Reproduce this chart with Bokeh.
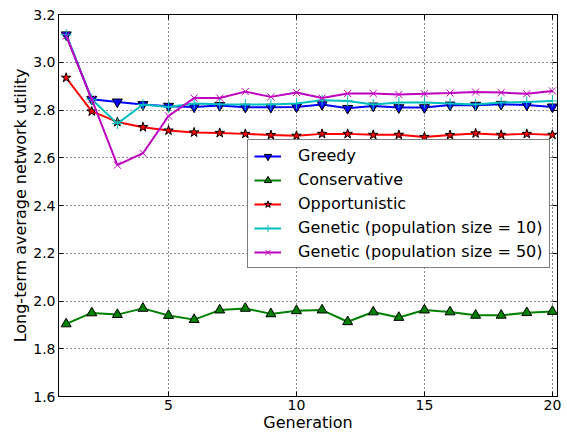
from bokeh.plotting import figure
from bokeh.models import Range1d, FixedTicker, LinearAxis, Legend, LegendItem, PrintfTickFormatter
from bokeh.embed import file_html
from bokeh.resources import INLINE

generations = list(range(1, 21))
greedy = [3.115, 2.845, 2.834, 2.823, 2.816, 2.813, 2.819, 2.812, 2.812, 2.813,
          2.823, 2.807, 2.817, 2.810, 2.810, 2.821, 2.820, 2.824, 2.821, 2.813]
conservative = [1.904, 1.950, 1.943, 1.969, 1.939, 1.922, 1.962, 1.969, 1.946, 1.959,
                1.962, 1.913, 1.954, 1.931, 1.962, 1.954, 1.940, 1.940, 1.951, 1.956]
opportunistic = [2.935, 2.794, 2.750, 2.728, 2.714, 2.706, 2.704, 2.700, 2.695, 2.692,
                 2.700, 2.700, 2.696, 2.696, 2.687, 2.695, 2.702, 2.696, 2.700, 2.696]
genetic10 = [3.115, 2.845, 2.743, 2.823, 2.813, 2.827, 2.824, 2.823, 2.823, 2.827,
             2.841, 2.838, 2.823, 2.831, 2.831, 2.827, 2.823, 2.831, 2.834, 2.838]
genetic50 = [3.110, 2.845, 2.569, 2.619, 2.775, 2.850, 2.850, 2.877, 2.855, 2.873,
             2.850, 2.869, 2.869, 2.865, 2.868, 2.871, 2.875, 2.873, 2.868, 2.880]

x_ticks = [5, 10, 15, 20]
y_ticks = [1.6, 1.8, 2.0, 2.2, 2.4, 2.6, 2.8, 3.0, 3.2]

FONT = "DejaVu Sans"

p = figure(width=567, height=434, output_backend="svg", toolbar_location=None,
           x_range=Range1d(0.7, 20.2), y_range=Range1d(1.6, 3.2),
           min_border_left=58, min_border_right=10, min_border_top=14, min_border_bottom=37,
           x_axis_label="Generation", y_axis_label="Long-term average network utility")
p.outline_line_color = "black"
p.outline_line_width = 1
p.background_fill_color = "white"
p.border_fill_color = "white"

p.xaxis.ticker = FixedTicker(ticks=x_ticks)
p.yaxis.ticker = FixedTicker(ticks=y_ticks)
p.yaxis.formatter = PrintfTickFormatter(format="%.1f")
for ax in (p.xaxis[0], p.yaxis[0]):
    ax.major_tick_in = 5
    ax.major_tick_out = 0
    ax.minor_tick_line_color = None
    ax.axis_line_color = "black"
    ax.major_tick_line_color = "black"
    ax.major_label_text_font = FONT
    ax.major_label_text_font_size = "14px"
    ax.major_label_text_color = "black"
    ax.axis_label_text_font = FONT
    ax.axis_label_text_font_size = "16px"
    ax.axis_label_text_font_style = "normal"
    ax.axis_label_text_color = "black"
p.xaxis.major_label_standoff = 3
p.xaxis.axis_label_standoff = 0
p.yaxis.major_label_standoff = 3
p.yaxis.axis_label_standoff = 0

top_axis = LinearAxis(ticker=FixedTicker(ticks=x_ticks), major_tick_in=5, major_tick_out=0,
                      minor_tick_line_color=None, major_label_standoff=0,
                      major_label_overrides={t: "" for t in x_ticks},
                      axis_line_color="black")
right_axis = LinearAxis(ticker=FixedTicker(ticks=y_ticks), major_tick_in=5, major_tick_out=0,
                        minor_tick_line_color=None, major_label_standoff=0,
                        major_label_overrides={t: "" for t in y_ticks},
                        axis_line_color="black")
p.add_layout(top_axis, "above")
p.add_layout(right_axis, "right")

p.xgrid.ticker = FixedTicker(ticks=x_ticks)
p.ygrid.ticker = FixedTicker(ticks=y_ticks)
for g in (p.xgrid[0], p.ygrid[0]):
    g.grid_line_color = "black"
    g.grid_line_dash = "1 3"
    g.grid_line_width = 1
    g.grid_line_alpha = 0.9

series = [
    ("Greedy", greedy, "#0000ff", "inverted_triangle", 10, "black"),
    ("Conservative", conservative, "#008000", "triangle", 10, "black"),
    ("Opportunistic", opportunistic, "#ff0000", "star", 10, "black"),
    ("Genetic (population size = 10)", genetic10, "#00bfbf", "cross", 11, "#00bfbf"),
    ("Genetic (population size = 50)", genetic50, "#bf00bf", "x", 10, "#bf00bf"),
]

items = []
for label, ys, color, marker, size, edge in series:
    rl = p.line(generations, ys, line_color=color, line_width=2)
    rs = p.scatter(generations, ys, marker=marker, size=size, fill_color=color,
                   line_color=edge, line_width=1)
    items.append(LegendItem(label=label, renderers=[rl, rs]))

legend = Legend(items=items, location=(189, 128))
legend.border_line_color = "black"
legend.border_line_width = 1
legend.background_fill_color = "white"
legend.background_fill_alpha = 1
legend.label_text_font = FONT
legend.label_text_font_size = "16px"
legend.label_text_color = "black"
legend.glyph_width = 27
legend.glyph_height = 18
legend.label_height = 18
legend.spacing = 5
legend.padding = 6
legend.margin = 0
legend.label_standoff = 17
p.add_layout(legend)

open("out.html", "w").write(file_html(p, INLINE))
